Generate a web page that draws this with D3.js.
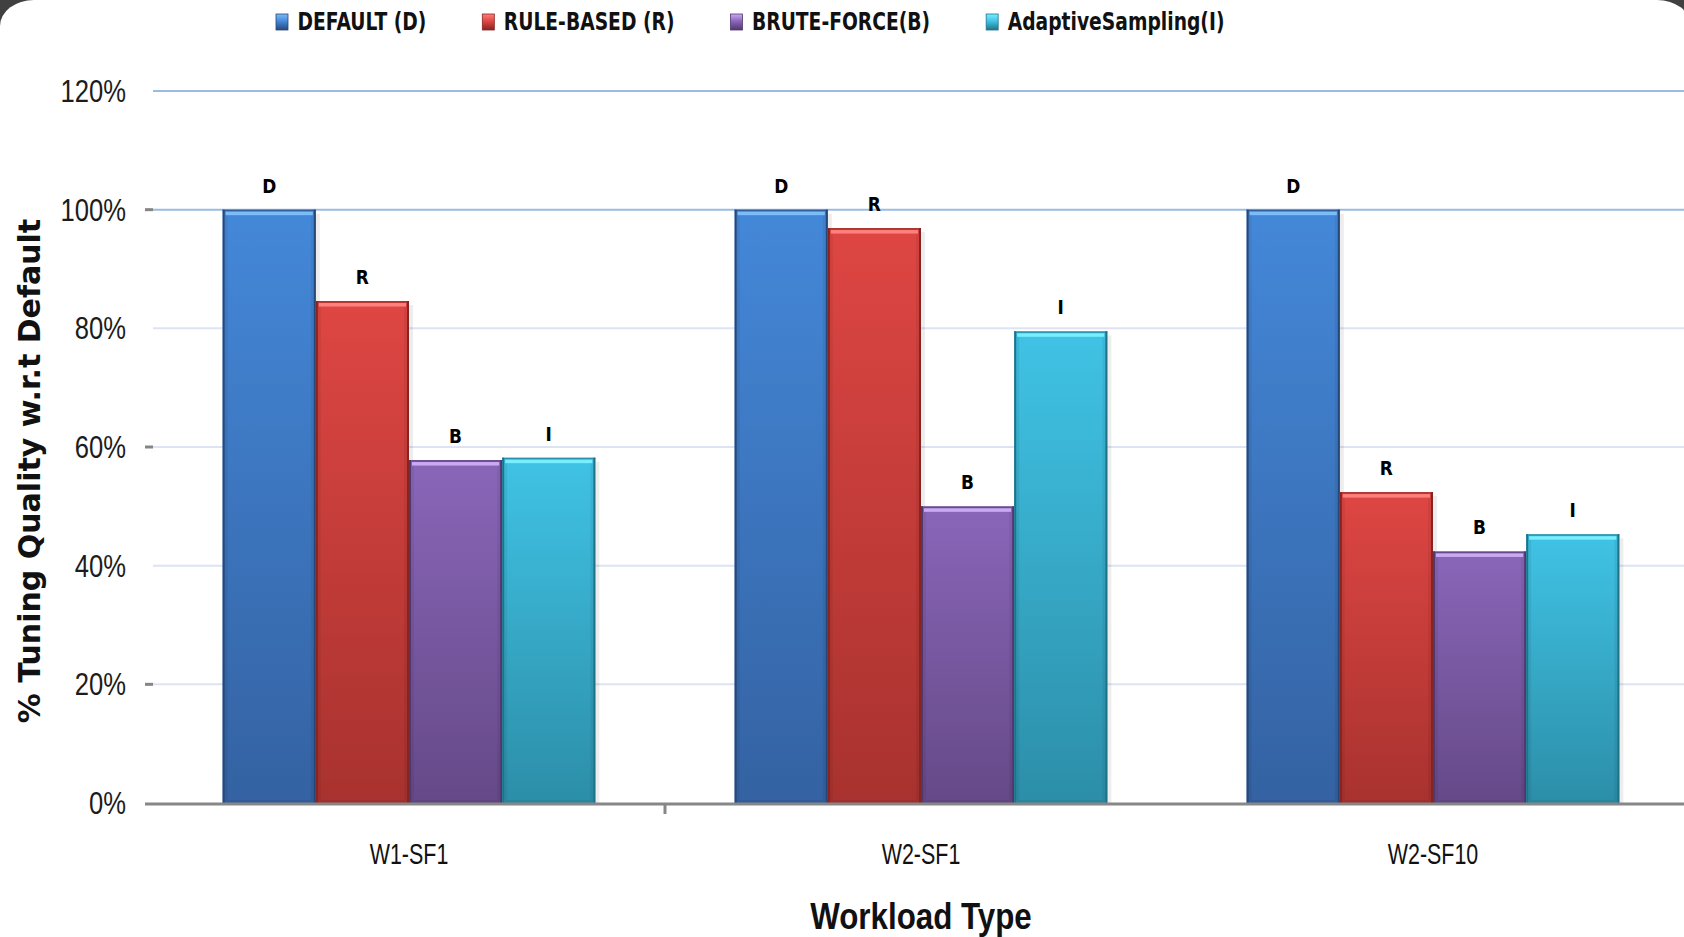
<!DOCTYPE html>
<html>
<head>
<meta charset="utf-8">
<script src="https://cdn.jsdelivr.net/npm/d3@7"></script>
<style>
  html, body { margin: 0; padding: 0; background: #404040; overflow: hidden; }
  svg { display: block; }
</style>
</head>
<body>
<svg id="chart" width="1684" height="937"></svg>
<script>
// Workload categories and tuning quality (% of the default configuration)
const categories = ["W1-SF1", "W2-SF1", "W2-SF10"];
const seriesNames = ["DEFAULT (D)", "RULE-BASED (R)", "BRUTE-FORCE(B)", "AdaptiveSampling(I)"];
const seriesLetters = ["D", "R", "B", "I"];
const defaultValues = [100, 100, 100];
const ruleBasedValues = [84.6, 96.9, 52.4];
const bruteForceValues = [57.8, 50.0, 42.4];
const adaptiveValues = [58.2, 79.5, 45.3];
const yTicks = [0, 20, 40, 60, 80, 100, 120];

const seriesValues = [defaultValues, ruleBasedValues, bruteForceValues, adaptiveValues];

// Office-style bar shading per series
const palette = [
  { top: "#4488d9", bottom: "#3462a2", edge: "#264878", hl: "#7cbcf7" },
  { top: "#de4643", bottom: "#a8322f", edge: "#862422", hl: "#ff807c" },
  { top: "#8a66b9", bottom: "#654987", edge: "#50386f", hl: "#cbaaf4" },
  { top: "#40c3e5", bottom: "#2c8ea8", edge: "#1f7389", hl: "#78eeff" }
];

const W = 1684, H = 937;
const svg = d3.select("#chart");

// White chart panel with rounded corners over the dark frame
svg.append("rect")
  .attr("x", 0).attr("y", 0)
  .attr("width", 1691).attr("height", H + 60)
  .attr("rx", 34).attr("ry", 26)
  .attr("fill", "#ffffff");

const plot = { left: 153, right: 1689, top: 91, bottom: 803 };

const x0 = d3.scaleBand()
  .domain(categories)
  .range([plot.left, plot.right])
  .paddingInner(0.272)
  .paddingOuter(0.136);

const x1 = d3.scaleBand()
  .domain(seriesLetters)
  .range([0, x0.bandwidth()])
  .padding(0);

const y = d3.scaleLinear().domain([0, 120]).range([plot.bottom, plot.top]);

// Helper: horizontally condensed text
function condensedText(parent, x, yPos, txt, opts) {
  const g = parent.append("g")
    .attr("transform", `translate(${x},${yPos}) scale(${opts.sx || 1},1)`);
  const t = g.append("text")
    .attr("x", 0).attr("y", 0)
    .attr("text-anchor", opts.anchor || "start")
    .attr("font-family", opts.family || "'Liberation Sans', Arial, sans-serif")
    .attr("font-size", opts.size)
    .attr("font-weight", opts.weight || "normal")
    .attr("fill", opts.fill || "#000")
    .text(txt);
  return { g, t };
}

// Gradients
const defs = svg.append("defs");
palette.forEach((p, i) => {
  const lg = defs.append("linearGradient")
    .attr("id", "grad" + i)
    .attr("x1", 0).attr("y1", 0).attr("x2", 0).attr("y2", 1);
  lg.append("stop").attr("offset", "0%").attr("stop-color", p.top);
  lg.append("stop").attr("offset", "100%").attr("stop-color", p.bottom);
  const sg = defs.append("linearGradient")
    .attr("id", "sw" + i)
    .attr("x1", 0).attr("y1", 0).attr("x2", 0).attr("y2", 1);
  sg.append("stop").attr("offset", "0%").attr("stop-color", p.hl);
  sg.append("stop").attr("offset", "45%").attr("stop-color", p.top);
  sg.append("stop").attr("offset", "100%").attr("stop-color", p.edge);
});

// Gridlines
const grid = svg.append("g").attr("class", "grid");
grid.selectAll("line")
  .data(yTicks.filter(d => d > 0))
  .join("line")
  .attr("x1", plot.left).attr("x2", W)
  .attr("y1", d => y(d)).attr("y2", d => y(d))
  .attr("stroke", d => d >= 100 ? "#9dbae3" : "#dce4f3")
  .attr("stroke-width", 2);

// Y axis tick marks and labels
const yAxis = svg.append("g").attr("class", "y-axis");
yAxis.selectAll("line.tick")
  .data(yTicks.filter(d => d % 40 === 20 || d === 100))
  .join("line")
  .attr("class", "tick")
  .attr("x1", 145).attr("x2", plot.left)
  .attr("y1", d => y(d)).attr("y2", d => y(d))
  .attr("stroke", "#858585").attr("stroke-width", 3);

yTicks.forEach(d => {
  condensedText(yAxis, 126, y(d) + 11, d + "%", {
    anchor: "end", size: 32, sx: 0.8, fill: "#1c1c1c"
  });
});

// Bars
const groups = svg.append("g").attr("class", "bars")
  .selectAll("g")
  .data(categories)
  .join("g")
  .attr("transform", c => `translate(${x0(c)},0)`);

const bw = x1.bandwidth();

groups.each(function (cat, ci) {
  const g = d3.select(this);
  const bars = seriesLetters.map((s, si) => ({ s, si, v: seriesValues[si][ci] }));

  // soft drop shadow on the right of each bar
  g.selectAll("rect.shadow")
    .data(bars)
    .join("rect")
    .attr("class", "shadow")
    .attr("x", d => x1(d.s) + bw)
    .attr("y", d => y(d.v) + 4)
    .attr("width", 4)
    .attr("height", d => plot.bottom - y(d.v) - 4)
    .attr("fill", "#000").attr("opacity", 0.07);

  const bar = g.selectAll("g.bar")
    .data(bars)
    .join("g")
    .attr("class", "bar");

  bar.append("rect")
    .attr("x", d => x1(d.s))
    .attr("y", d => y(d.v))
    .attr("width", bw)
    .attr("height", d => plot.bottom - y(d.v))
    .attr("fill", d => `url(#grad${d.si})`);

  // inner darker rim
  bar.append("rect")
    .attr("x", d => x1(d.s) + 3)
    .attr("y", d => y(d.v) + 3)
    .attr("width", bw - 6)
    .attr("height", d => plot.bottom - y(d.v) - 4)
    .attr("fill", "none")
    .attr("stroke", "#000").attr("stroke-opacity", 0.06)
    .attr("stroke-width", 4);

  // outer edges
  bar.append("rect")
    .attr("x", d => x1(d.s))
    .attr("y", d => y(d.v))
    .attr("width", 2)
    .attr("height", d => plot.bottom - y(d.v))
    .attr("fill", d => palette[d.si].edge);
  bar.append("rect")
    .attr("x", d => x1(d.s) + bw - 2)
    .attr("y", d => y(d.v))
    .attr("width", 2)
    .attr("height", d => plot.bottom - y(d.v))
    .attr("fill", d => palette[d.si].edge);
  bar.append("rect")
    .attr("x", d => x1(d.s))
    .attr("y", d => y(d.v))
    .attr("width", bw)
    .attr("height", 1.5)
    .attr("fill", d => palette[d.si].edge).attr("opacity", 0.6);

  // top highlight
  bar.append("rect")
    .attr("x", d => x1(d.s) + 3)
    .attr("y", d => y(d.v) + 2)
    .attr("width", bw - 6)
    .attr("height", 3.5)
    .attr("fill", d => palette[d.si].hl);

  // series letter above each bar
  bar.each(function (d) {
    condensedText(d3.select(this), x1(d.s) + bw / 2, y(d.v) - 17, d.s, {
      anchor: "middle", size: 20, weight: "bold", sx: 0.85,
      family: "'DejaVu Sans', sans-serif"
    });
  });
});

// X axis
const xAxis = svg.append("g").attr("class", "x-axis");
xAxis.append("line")
  .attr("x1", 145).attr("x2", W)
  .attr("y1", plot.bottom + 1).attr("y2", plot.bottom + 1)
  .attr("stroke", "#878787").attr("stroke-width", 3);
// divider tick between the first two workload groups
xAxis.append("line")
  .attr("x1", plot.left + x0.step()).attr("x2", plot.left + x0.step())
  .attr("y1", plot.bottom).attr("y2", plot.bottom + 11)
  .attr("stroke", "#878787").attr("stroke-width", 3);

categories.forEach(c => {
  condensedText(xAxis, x0(c) + x0.bandwidth() / 2, 864, c, {
    anchor: "middle", size: 29, sx: 0.74, fill: "#111"
  });
});

// Axis titles
condensedText(svg, 921, 929, "Workload Type", {
  anchor: "middle", size: 36, weight: "bold", sx: 0.87, fill: "#111"
});

const yTitle = svg.append("g").attr("transform", "translate(40,471) rotate(-90)");
condensedText(yTitle, 0, 0, "% Tuning Quality w.r.t Default", {
  anchor: "middle", size: 30, weight: "bold", sx: 1.0,
  family: "'DejaVu Sans', sans-serif", fill: "#111"
});

// Legend
const legend = svg.append("g").attr("class", "legend");
const legendScale = 0.78;
let lx = 276;
seriesNames.forEach((name, i) => {
  legend.append("rect")
    .attr("x", lx).attr("y", 14)
    .attr("width", 12).attr("height", 16)
    .attr("fill", `url(#sw${i})`)
    .attr("stroke", palette[i].edge).attr("stroke-width", 0.8);
  const { t } = condensedText(legend, lx + 21.5, 30, name, {
    anchor: "start", size: 24, weight: "bold", sx: legendScale, fill: "#111",
    family: "'DejaVu Sans', sans-serif"
  });
  const w = t.node().getComputedTextLength() * legendScale;
  lx = lx + 21.5 + w + 56;
});
</script>
</body>
</html>
